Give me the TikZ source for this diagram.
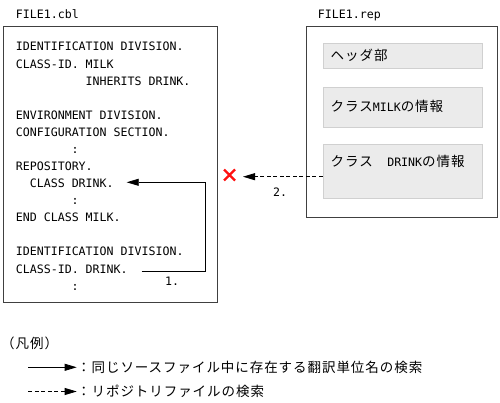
\documentclass[tikz,border=0pt]{standalone}
\usepackage{fontspec}
\usetikzlibrary{arrows.meta,calc}
\newfontfamily\mono{DejaVu Sans Mono}
\newfontfamily\jp[LetterSpace=7]{Noto Sans CJK JP}
\newcommand\mn[1]{{\mono\fontsize{11.6}{14}\selectfont #1}}
\definecolor{boxgray}{HTML}{EBEBEB}
\definecolor{boxline}{HTML}{D0D0D0}
\definecolor{xred}{HTML}{FF1010}
\begin{document}
\begin{tikzpicture}[x=1pt,y=-1pt,
  code/.style={anchor=base west, inner sep=0pt, font=\mono\fontsize{11.6}{14}\selectfont},
  jtext/.style={anchor=base west, inner sep=0pt, font=\jp\fontsize{13.5}{16}\selectfont},
  frame/.style={draw=black!75, line width=0.9pt, inner sep=0pt, anchor=north west},
  part/.style={draw=boxline, fill=boxgray, line width=0.8pt, inner sep=0pt, anchor=north west},
  tip/.style={-{Triangle[length=12pt,width=7pt]}},
  conn/.style={line width=0.8pt, black},
  dashconn/.style={line width=0.8pt, black, dash pattern=on 4pt off 2.5pt}]
\useasboundingbox (0,0) rectangle (500,403);

% titles
\node[code] (tcbl) at (15.7,18.3) {FILE1.cbl};
\node[code] (trep) at (317.7,18.3) {FILE1.rep};

% boxes
\node[frame, minimum width=214pt, minimum height=276pt] (cbl) at (3,26) {};
\node[frame, minimum width=191pt, minimum height=191pt] (rep) at (306,26) {};
\node[part, minimum width=159pt, minimum height=25pt] (hdr) at (322.7,43) {};
\node[part, minimum width=159pt, minimum height=40pt] (milk) at (322.7,87) {};
\node[part, minimum width=159pt, minimum height=54pt] (drink) at (322.7,144) {};

\node[jtext] (thdr) at (330.5,60.5) {ヘッダ部};
\node[jtext] (tmilk) at (330.5,111.5) {クラス\mn{MILK}の情報};
\node[jtext] (tdrink) at (330.5,166.5) {クラス　\mn{DRINK}の情報};

% code lines
\def\cw{6.98}
\def\lp{17.08}
\node[code] (l0) at (15.7,51) {IDENTIFICATION DIVISION.};
\node[code] (l1) at (15.7,51+\lp) {CLASS-ID. MILK};
\node[code] (l2) at (15.7+10*\cw,51+2*\lp) {INHERITS DRINK.};
\node[code] (l4) at (15.7,51+4*\lp) {ENVIRONMENT DIVISION.};
\node[code] (l5) at (15.7,51+5*\lp) {CONFIGURATION SECTION.};
\node[code] (l6) at (15.7+8*\cw,51+6*\lp) {:};
\node[code] (l7) at (15.7,51+7*\lp) {REPOSITORY.};
\node[code] (l8) at (15.7+2*\cw,51+8*\lp) {CLASS DRINK.};
\node[code] (l9) at (15.7+8*\cw,51+9*\lp) {:};
\node[code] (l10) at (15.7,51+10*\lp) {END CLASS MILK.};
\node[code] (l12) at (15.7,51+12*\lp) {IDENTIFICATION DIVISION.};
\node[code] (l13) at (15.7,51+13*\lp) {CLASS-ID. DRINK.};
\node[code] (l14) at (15.7+8*\cw,51+14*\lp) {:};

% arrow 1
\coordinate (a1s) at (141.7,271.7);
\coordinate (a1c) at (205.7,271.7);
\coordinate (a1d) at (205.7,182.3);
\coordinate (a1e) at (126.7,182.3);
\draw[conn, tip] (a1s) -- (a1c) -- (a1d) -- (a1e);
\node[code] (n1) at (165,285) {1.};

% arrow 2
\coordinate (a2s) at (drink.west |- 0,176.7);
\coordinate (a2e) at (243,176.7);
\draw[dashconn, tip] (a2s) -- (a2e);
\node[code] (n2) at (273,196.7) {2.};

% red cross
\coordinate (xm) at (229.5,175);
\draw[xred, line width=2.3pt] ($(xm)+(-5.5,-5.5)$) -- ($(xm)+(5.5,5.5)$)
  ($(xm)+(-5.5,5.5)$) -- ($(xm)+(5.5,-5.5)$);

% legend
\node[jtext] (leg) at (1,348) {（凡例）};
\coordinate (s1) at (28.3,367.3);
\coordinate (s2) at (76.7,367.3);
\draw[conn, tip] (s1) -- (s2);
\node[jtext] (lt1) at (77,372.3) {：同じソースファイル中に存在する翻訳単位名の検索};
\coordinate (d1) at (28.3,391.5);
\coordinate (d2) at (76.7,391.5);
\draw[dashconn, tip] (d1) -- (d2);
\node[jtext] (lt2) at (77,396.3) {：リポジトリファイルの検索};
\end{tikzpicture}
\end{document}
